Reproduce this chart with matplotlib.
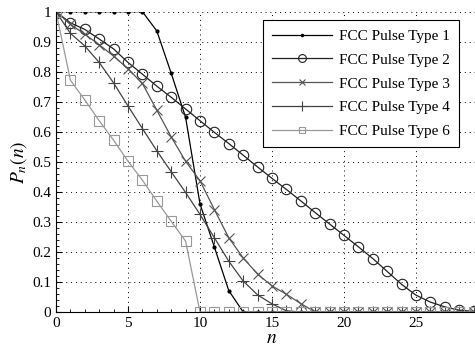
import numpy as np
import matplotlib.pyplot as plt
from matplotlib.ticker import MultipleLocator, FixedLocator

plt.rcParams['font.family'] = ['Liberation Serif', 'DejaVu Serif']
plt.rcParams['mathtext.fontset'] = 'stix'

n = np.arange(0, 30)

# values, padded with zeros to n = 29
type1 = [1, 1, 1, 1, 1, 1, 1, 0.936, 0.795, 0.648, 0.360, 0.216, 0.071] + [0] * 17
type2 = [1, 0.963, 0.941, 0.909, 0.876, 0.831, 0.792, 0.752, 0.715, 0.676,
         0.637, 0.598, 0.561, 0.522, 0.483, 0.445, 0.408, 0.370, 0.331, 0.293,
         0.255, 0.217, 0.178, 0.135, 0.092, 0.056, 0.033, 0.017, 0.006, 0.002]
type3 = [1, 0.958, 0.925, 0.89, 0.852, 0.81, 0.761, 0.672, 0.583, 0.502,
         0.437, 0.341, 0.247, 0.180, 0.126, 0.087, 0.059, 0.028] + [0] * 12
type4 = [1, 0.928, 0.886, 0.831, 0.763, 0.686, 0.611, 0.537, 0.467, 0.398,
         0.325, 0.247, 0.169, 0.103, 0.057, 0.027, 0.004] + [0] * 13
type6 = [1, 0.772, 0.706, 0.637, 0.572, 0.502, 0.439, 0.369, 0.302, 0.236] + [0] * 20

labels = ['FCC Pulse Type 1', 'FCC Pulse Type 2', 'FCC Pulse Type 3',
          'FCC Pulse Type 4', 'FCC Pulse Type 6']

fig = plt.figure(figsize=(4.75, 3.56), dpi=100)
ax = fig.add_axes([56 / 475, 44 / 356, 432 / 475, 300.3 / 356])

ax.plot(n, type1, color='black', lw=0.9, marker='.', ms=4, label=labels[0])
ax.plot(n, type2, color='#222222', lw=0.9, marker='o', ms=7.5, mfc='none', mew=0.8, label=labels[1])
ax.plot(n, type3, color='#555555', lw=0.9, marker='x', ms=6.5, mew=0.8, label=labels[2])
ax.plot(n, type4, color='#444444', lw=0.9, marker='+', ms=9, mew=0.8, label=labels[3])
ax.plot(n, type6, color='#999999', lw=0.9, marker='s', ms=6.5, mfc='none', mew=0.8, label=labels[4])

ax.set_xlim(0, 30)
ax.set_ylim(0, 1)
ax.xaxis.set_major_locator(FixedLocator([0, 5, 10, 15, 20, 25]))
ax.yaxis.set_major_locator(MultipleLocator(0.1))
ax.xaxis.set_minor_locator(MultipleLocator(1))
ax.yaxis.set_minor_locator(MultipleLocator(0.02))
ax.set_yticklabels(['0' if abs(v) < 1e-9 else ('1' if abs(v - 1) < 1e-9 else f'{v:.1f}')
                    for v in ax.get_yticks()])
ax.tick_params(which='both', direction='in', labelsize=11, top=False, right=False)
ax.tick_params(which='major', length=4)
ax.tick_params(which='minor', length=2)
ax.grid(True, which='major', linestyle=(0, (1, 4)), color='black', lw=0.7)
for s in ['top', 'right']:
    ax.spines[s].set_visible(False)
ax.set_axisbelow(True)

ax.set_xlabel('$n$', fontsize=14, labelpad=0)
ax.set_ylabel('$P_n(n)$', fontsize=14, labelpad=2)

leg = ax.legend(loc='upper left', bbox_to_anchor=(0.479, 0.972), borderaxespad=0,
                fontsize=11, frameon=True, fancybox=False, edgecolor='black',
                framealpha=1, handlelength=3.9, handletextpad=0.5,
                borderpad=0.6, labelspacing=0.66, markerscale=0.75)
leg.get_frame().set_linewidth(0.8)

fig.savefig('out.png', dpi=100)
